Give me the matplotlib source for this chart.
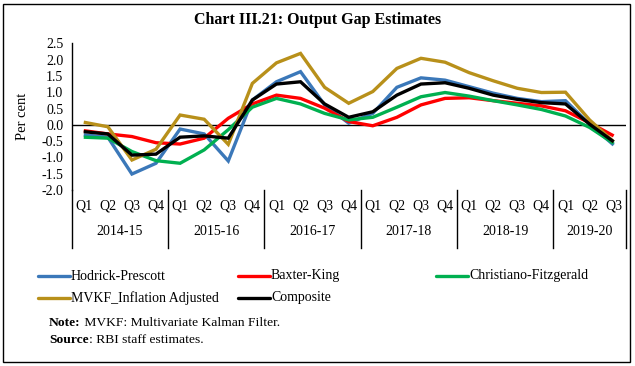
import matplotlib
matplotlib.use('Agg')
import matplotlib.pyplot as plt
from matplotlib.lines import Line2D
from matplotlib.patches import Rectangle
import matplotlib.transforms as mtransforms

plt.rcParams['font.family'] = ['Liberation Serif', 'DejaVu Serif']

# Quarters and fiscal years
quarters = ['Q1', 'Q2', 'Q3', 'Q4'] * 5 + ['Q1', 'Q2', 'Q3']
years = ['2014-15', '2015-16', '2016-17', '2017-18', '2018-19', '2019-20']
year_lengths = [4, 4, 4, 4, 4, 3]

# Output gap estimates (per cent)
hodrick = [-0.31, -0.38, -1.51, -1.18, -0.13, -0.28, -1.11, 0.76, 1.32, 1.63, 0.61, 0.05,
           0.35, 1.15, 1.44, 1.37, 1.17, 0.97, 0.81, 0.71, 0.74, 0.02, -0.62]
baxter = [-0.18, -0.28, -0.36, -0.55, -0.59, -0.41, 0.20, 0.64, 0.91, 0.81, 0.51, 0.10,
          -0.03, 0.23, 0.61, 0.81, 0.83, 0.74, 0.66, 0.58, 0.43, 0.06, -0.34]
christiano = [-0.38, -0.41, -0.82, -1.10, -1.18, -0.77, -0.15, 0.54, 0.81, 0.64, 0.35, 0.15,
              0.23, 0.54, 0.86, 0.99, 0.88, 0.74, 0.61, 0.47, 0.27, -0.08, -0.57]
mvkf = [0.08, -0.06, -1.08, -0.75, 0.30, 0.17, -0.60, 1.27, 1.90, 2.19, 1.15, 0.66,
        1.02, 1.73, 2.04, 1.92, 1.60, 1.35, 1.12, 0.99, 1.00, 0.15, -0.52]
composite = [-0.21, -0.28, -0.93, -0.90, -0.38, -0.34, -0.41, 0.76, 1.25, 1.32, 0.64, 0.23,
             0.40, 0.91, 1.25, 1.29, 1.12, 0.91, 0.78, 0.68, 0.64, 0.02, -0.52]

series = [
    ('Hodrick-Prescott', hodrick, '#3B78B9'),
    ('Baxter-King', baxter, '#FF0000'),
    ('Christiano-Fitzgerald', christiano, '#00B050'),
    ('MVKF_Inflation Adjusted', mvkf, '#B8901A'),
    ('Composite', composite, '#000000'),
]

fig = plt.figure(figsize=(6.35, 3.66), dpi=100)
ax = fig.add_axes([71.7 / 635, 176 / 366, 554 / 635, 146.7 / 366])

x = list(range(len(quarters)))
for name, vals, col in series:
    ax.plot(x, vals, color=col, lw=2.4, solid_joinstyle='miter', solid_capstyle='butt')

ax.axhline(0, color='black', lw=1, zorder=1)
ax.set_xlim(-0.5, len(quarters) - 0.5)
ax.set_ylim(-2.0, 2.5)
ax.set_yticks([-2.0, -1.5, -1.0, -0.5, 0.0, 0.5, 1.0, 1.5, 2.0, 2.5])
ax.set_yticklabels([f'{v:.1f}' for v in ax.get_yticks()], fontsize=10)
ax.tick_params(axis='y', length=0, pad=6)
ax.set_xticks([])
for s in ['top', 'right', 'bottom']:
    ax.spines[s].set_visible(False)
ax.spines['left'].set_linewidth(1)
ax.set_ylabel('Per cent', fontsize=10.5, labelpad=9)

# multi-level category axis
trans = mtransforms.blended_transform_factory(ax.transData, ax.transAxes)
pos = -0.5
bounds = [pos]
for yr, n in zip(years, year_lengths):
    ax.text(pos + n / 2, -0.28, yr, transform=trans, ha='center', va='center', fontsize=10)
    pos += n
    bounds.append(pos)
for b in bounds:
    ax.plot([b, b], [0, -0.395], transform=trans, color='black', lw=1, clip_on=False)
for xi, q in zip(x, quarters):
    ax.text(xi, -0.11, q, transform=trans, ha='center', va='center', fontsize=10)

# title
fig.text(0.5, 1 - 20 / 366, 'Chart III.21: Output Gap Estimates', ha='center', va='center',
         fontsize=11.5, fontweight='bold')

# legend
leg_pos = [(38, 276), (238, 276), (436, 276), (38, 298), (238, 298)]
for (name, vals, col), (lx, ly) in zip(series, leg_pos):
    fig.add_artist(Line2D([lx / 635, (lx + 32) / 635], [1 - ly / 366] * 2, color=col, lw=2.4,
                          solid_capstyle='round'))
    fig.text((lx + 33) / 635, 1 - ly / 366, name, ha='left', va='center', fontsize=10)

# notes: bold lead word followed by plain text
renderer = fig.canvas.get_renderer()
for lead, rest, ly in [('Note:', ' MVKF: Multivariate Kalman Filter.', 323),
                       ('Source', ': RBI staff estimates.', 340)]:
    t = fig.text(49 / 635, 1 - ly / 366, lead, ha='left', va='center', fontsize=9.7,
                 fontweight='bold')
    w = t.get_window_extent(renderer).width
    fig.text((49 + w) / 635, 1 - ly / 366, rest, ha='left', va='center', fontsize=9.7)

# outer frame
fig.add_artist(Rectangle((3 / 635, 4 / 366), 627 / 635, 358 / 366, transform=fig.transFigure,
                         fill=False, edgecolor='black', lw=1))

fig.savefig('out.png', dpi=100)
